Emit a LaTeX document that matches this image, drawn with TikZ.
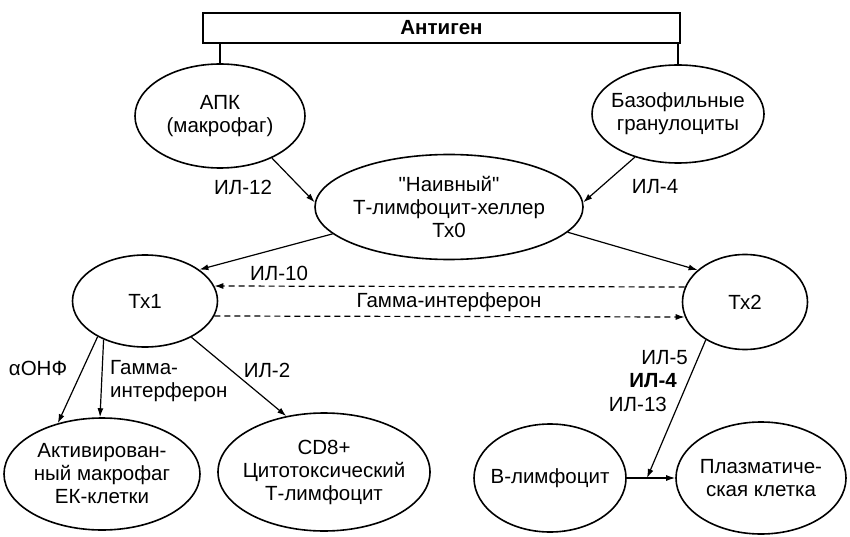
\documentclass[tikz,border=0pt]{standalone}
\usepackage{fontspec}
\setmainfont{Liberation Sans}
\usetikzlibrary{shapes.geometric,arrows.meta}

\begin{document}
\begin{tikzpicture}[x=1pt,y=-1pt,>={Latex[length=9pt,width=6pt]},
        font=\fontsize{20.5}{23}\selectfont,
        lbl/.style={inner sep=0pt,align=center},
        arr/.style={->,line width=1.2pt}]
        \useasboundingbox (0,0) rectangle (850,537);
        \node [draw,line width=1.6pt,minimum width=477pt,minimum height=30pt,inner sep=0pt,font=\fontsize{20.5}{23}\selectfont\bfseries](Ag) at (441.5,28) {Антиген};
        \begin{scope}[every node/.style={ellipse,draw,line width=1.6pt,align=center,inner sep=-15pt}]
            \node [minimum width=170pt,minimum height=104pt](APK) at (220,116) {АПК\\(макрофаг)};
            \node [minimum width=172pt,minimum height=98pt](Baz) at (678,114) {Базофильные\\гранулоциты};
            \node [minimum width=268pt,minimum height=105pt](T0) at (449,207) {\textquotedbl Наивный\textquotedbl\\Т-лимфоцит-хеллер\\Тх0};
            \node [minimum width=145pt,minimum height=92pt](T1) at (145,301) {Тх1};
            \node [minimum width=125pt,minimum height=95pt](T2) at (745,302) {Тх2};
            \node [minimum width=196pt,minimum height=112pt](Mac) at (102,474) {Активирован-\\ный макрофаг\\ЕК-клетки};
            \node [minimum width=212pt,minimum height=118pt](CD8) at (324,472) {CD8+\\Цитотоксический\\Т-лимфоцит};
            \node [minimum width=152pt,minimum height=108pt](B) at (550,478) {В-лимфоцит};
            \node [minimum width=170pt,minimum height=112pt](Pl) at (761,478) {Плазматиче-\\ская клетка};
        \end{scope}
        \coordinate (M) at (647,478);
        % labels
        \node [lbl](il12) at (243,187) {ИЛ-12};
        \node [lbl](il4) at (655,187) {ИЛ-4};
        \node [lbl](il10) at (279,273) {ИЛ-10};
        \node [lbl](gif) at (449,302) {Гамма-интерферон};
        \node [lbl](onf) at (38,368) {αОНФ};
        \node [lbl,align=left,anchor=west](gif2) at (110,381) {Гамма-\\интерферон};
        \node [lbl](il2) at (267,370) {ИЛ-2};
        \node [lbl,anchor=east](il5) at (688,358) {ИЛ-5};
        \node [lbl,anchor=east,font=\fontsize{20.5}{23}\selectfont\bfseries](il4b) at (677,381) {ИЛ-4};
        \node [lbl,anchor=east](il13) at (667,404) {ИЛ-13};
        % connectors
        \draw [line width=1.6pt](APK.north) -- (APK.north |- Ag.south); \draw [line width=1.6pt](Baz.north) -- (Baz.north |- Ag.south);
        \draw [arr](APK.-39) -- (T0.178); \draw [arr](Baz.225) -- (T0.2);
        \draw [arr](T0.193) -- (T1.30); \draw [arr](T0.-12) -- (T2.146);
        \draw [arr,dashed,dash pattern=on 6pt off 4pt]([shift={(3pt,15pt)}]T2.west) -- ([shift={(-4pt,15pt)}]T1.east);
        \draw [arr,dashed,dash pattern=on 6pt off 4pt]([shift={(-4pt,-15pt)}]T1.east) -- ([shift={(3pt,-15pt)}]T2.west);
        \draw [arr](T1.217) -- (Mac.131); \draw [arr](T1.223) -- (Mac.92); \draw [arr](T1.-38) -- (CD8.124);
        \draw [arr](B) -- (Pl); \draw [arr](T2.224) -- (M);
\end{tikzpicture}
\end{document}
